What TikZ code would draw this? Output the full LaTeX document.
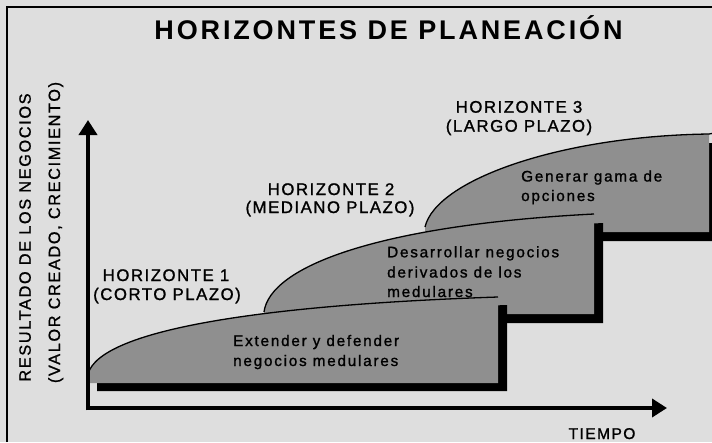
\documentclass[tikz,border=0pt]{standalone}
\usepackage{fontspec}
\usetikzlibrary{arrows.meta}
\newfontfamily\ttlfont[LetterSpace=10.6]{Liberation Sans}
\newfontfamily\labfont[LetterSpace=9,FakeBold=1.2]{Liberation Sans}
\newfontfamily\axfont[LetterSpace=10,FakeBold=1.0]{Liberation Sans}
\newfontfamily\bodyfont[LetterSpace=11.5,FakeBold=1.2]{Liberation Sans}
\definecolor{paper}{HTML}{DEDEDE}
\definecolor{area}{HTML}{8F8F8F}
\begin{document}
\begin{tikzpicture}[x=1pt,y=-1pt,
  shadowfill/.style={fill=black},
  areafill/.style={fill=area},
  edge/.style={draw=black,line width=1.3pt},
  axisline/.style={line width=4.7pt,-{Triangle[width=18pt,length=15pt]}},
  frameline/.style={line width=1.2pt},
  ttl/.style={inner sep=0pt,anchor=base,font={\ttlfont\bfseries\fontsize{27}{30}\selectfont}},
  lab/.style={inner sep=0pt,anchor=base,font={\labfont\fontsize{16.8}{19}\selectfont}},
  axlab/.style={inner sep=0pt,anchor=base,rotate=90,font={\axfont\fontsize{16.3}{19}\selectfont}},
  body/.style={inner sep=0pt,anchor=base west,font={\bodyfont\fontsize{15.3}{19}\selectfont}}]
\useasboundingbox (0,0) rectangle (712,442);
\fill[paper] (0,0) rectangle (712,442);
% frame
\draw[frameline] (7,442) -- (7,7) -- (712,7);
% Horizon 3
\fill[shadowfill,shift={(9,9)}] (425,232) -- (425,227) .. controls (436,180) and (560,136) .. (709,134) -- (709,232) -- cycle;
\fill[areafill] (425,232) -- (425,227) .. controls (436,180) and (560,136) .. (709,134) -- (709,232) -- cycle;
\draw[edge] (425,227) .. controls (436,180) and (560,136) .. (709,134) -- (712,133.5);
% Horizon 2
\fill[shadowfill,shift={(9,9)}] (264,314) -- (264,312) .. controls (270,266) and (380,225) .. (594,214) -- (594,314) -- cycle;
\fill[areafill] (264,314) -- (264,312) .. controls (270,266) and (380,225) .. (594,214) -- (594,314) -- cycle;
\draw[edge] (264,312) .. controls (270,266) and (380,225) .. (594,214);
% Horizon 1
\fill[shadowfill,shift={(9,8)}] (88,383) -- (88,374) .. controls (100,330) and (260,305) .. (498,297) -- (498,383) -- cycle;
\fill[areafill] (88,383) -- (88,374) .. controls (100,330) and (260,305) .. (498,297) -- (498,383) -- cycle;
\draw[edge] (88,374) .. controls (100,330) and (260,305) .. (498,297);
% axes
\coordinate (O) at (88,408);
\coordinate (ytip) at (88,120);
\coordinate (xtip) at (667,408);
\draw[axisline] ([yshift=-2.35pt]O) -- (ytip);
\draw[axisline] (O) -- (xtip);
% texts
\node[ttl] (title) at (388.5,39.3) {HORIZONTES DE PLANEACIÓN};
\node[axlab] (ylab1) at (30.7,237.5) {RESULTADO DE LOS NEGOCIOS};
\node[axlab] (ylab2) at (60,232.5) {(VALOR CREADO, CRECIMIENTO)};
\node[lab] (h1a) at (166,281) {HORIZONTE 1};
\node[lab] (h1b) at (167,300) {(CORTO PLAZO)};
\node[lab] (h2a) at (331,195) {HORIZONTE 2};
\node[lab] (h2b) at (330,213) {(MEDIANO PLAZO)};
\node[lab] (h3a) at (519,112.7) {HORIZONTE 3};
\node[lab] (h3b) at (519,131.7) {(LARGO PLAZO)};
\node[body] (b1a) at (233,346) {Extender y defender};
\node[body] (b1b) at (233,366) {negocios medulares};
\node[body] (b2a) at (387,257.3) {Desarrollar negocios};
\node[body] (b2b) at (387,277.5) {derivados de los};
\node[body] (b2c) at (387,297) {medulares};
\node[body] (b3a) at (521,181.5) {Generar gama de};
\node[body] (b3b) at (521,201) {opciones};
\node[lab,font={\labfont\fontsize{15.6}{18}\selectfont}] (tiempo) at (602,439) {TIEMPO};
\end{tikzpicture}
\end{document}
